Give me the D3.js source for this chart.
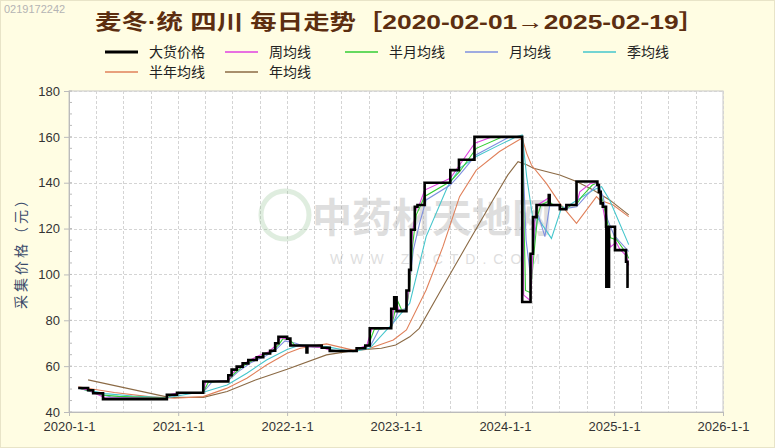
<!DOCTYPE html>
<html><head><meta charset="utf-8">
<script src="https://cdn.jsdelivr.net/npm/d3@7"></script>
<style>
html,body{margin:0;padding:0;background:#FFFDE3;}
svg{display:block;}
</style></head>
<body>
<svg id="chart" width="775" height="448"></svg>
<script>
// ---------- data ----------
const titleText = "麦冬·统 四川 每日走势［2020-02-01→2025-02-19］";
const yTicks = [40, 60, 80, 100, 120, 140, 160, 180];
const xTickLabels = ["2020-1-1","2021-1-1","2022-1-1","2023-1-1","2024-1-1","2025-1-1","2026-1-1"];
const seriesNames = ["大货价格","周均线","半月均线","月均线","季均线","半年均线","年均线"];
const seriesColors = ["#000000","#E040E0","#33CC33","#7F8FDF","#45C6CC","#E0805A","#8B6A45"];

const price = [
["2020-02-01",50.5],["2020-03-05",49.5],["2020-03-22",48.2],["2020-04-24",45.6],
["2020-11-24",47.5],["2020-12-28",48.4],["2021-03-26",53.3],["2021-06-18",56],
["2021-06-29",58.5],["2021-07-16",59.8],["2021-08-05",61.2],["2021-08-24",62.7],
["2021-09-21",63.9],["2021-10-13",65.5],["2021-11-05",66.7],["2021-11-22",70],
["2021-12-03",72.8],["2022-01-01",72],["2022-01-12",69],["2022-03-07",66],["2022-03-10",69],
["2022-04-27",68],["2022-05-24",66.6],["2022-08-22",67.8],["2022-09-20",69],["2022-10-05",76.5],
["2022-12-16",85],["2022-12-26",90],["2023-01-03",84],["2023-02-05",93],
["2023-02-14",102],["2023-02-20",119.5],["2023-03-05",129.5],["2023-03-14",130.3],
["2023-04-07",140],["2023-07-02",145.5],["2023-07-31",150],["2023-09-21",160],
["2024-02-28",88],["2024-03-27",109],["2024-04-04",125],["2024-04-16",130.3],
["2024-05-27",134.6],["2024-05-30",130.3],["2024-07-03",128.4],["2024-07-25",130.3],
["2024-08-28",140.5],["2024-11-06",139],["2024-11-11",136],["2024-11-17",131],
["2024-11-24",129.5],["2024-12-05",120.8],["2024-12-06",94.6],["2024-12-09",120.8],
["2024-12-12",94.6],["2024-12-15",120.8],["2025-01-04",110.6],["2025-02-10",105.5],
["2025-02-15",94.6],["2025-02-19",94.6]
];

const maWeek = [
["2020-02-01",50.5],["2020-03-10",49.5],["2020-03-27",48.2],["2020-05-01",46.2],["2020-11-24",46],["2020-12-01",47.5],["2021-01-04",48.4],
["2021-03-26",48.5],["2021-04-03",53.2],["2021-06-18",53.6],["2021-07-01",56.8],["2021-08-01",60.4],["2021-09-01",62.8],["2021-10-01",64.8],["2021-11-01",66.3],["2021-11-28",69.5],["2021-12-10",72.4],["2022-01-05",71.8],["2022-01-18",69],["2022-04-27",68.2],["2022-05-30",66.6],["2022-08-22",66.7],["2022-08-30",67.8],["2022-09-25",69],["2022-10-12",76.3],["2022-12-16",76.6],["2022-12-24",85],["2023-01-02",89],["2023-01-10",84.2],["2023-02-05",84.5],["2023-02-12",93.5],["2023-02-19",103],["2023-02-25",118],["2023-03-09",128.5],["2023-03-20",130.3],["2023-04-07",136.8],["2023-07-02",141.9],["2023-08-02",147.7],["2023-09-22",157.2],["2023-11-20",160],["2024-02-28",160],["2024-03-04",91],["2024-03-27",88.5],["2024-04-03",108],["2024-04-11",125],["2024-04-20",130.3],["2024-05-28",133.5],["2024-06-03",130.3],["2024-07-03",130],["2024-07-10",128.6],["2024-07-25",128.6],["2024-08-01",130.3],["2024-08-28",130.5],["2024-09-08",136],["2024-10-15",139.8],["2024-11-06",140],["2024-11-14",136],["2024-11-22",131],["2024-12-06",121],["2024-12-20",112],["2025-01-08",114],["2025-01-20",111],["2025-02-12",108],["2025-02-19",104]
];

const maHalfMonth = [
["2020-02-01",50.5],["2020-03-20",48.8],["2020-04-12",47.5],["2020-06-15",46.8],["2020-09-01",46.4],["2020-11-24",46.2],["2020-12-12",47.4],["2021-01-15",48.3],
["2021-03-26",48.5],["2021-04-12",53],["2021-06-18",53.7],["2021-07-08",56.8],["2021-08-08",60.2],["2021-09-08",62.6],["2021-10-08",64.5],["2021-11-08",66.1],["2021-12-05",69.5],["2021-12-18",72],["2022-01-10",71.5],["2022-01-28",69],["2022-04-27",68.2],["2022-06-08",66.7],["2022-08-22",66.7],["2022-09-08",67.8],["2022-09-30",69],["2022-10-20",76],["2022-12-16",76.6],["2022-12-30",85],["2023-01-08",88],["2023-01-20",84.5],["2023-02-05",84.5],["2023-02-16",95],["2023-02-25",112],["2023-03-10",126],["2023-03-25",130.3],["2023-04-07",134],["2023-07-02",140.5],["2023-08-02",144.8],["2023-09-27",155],["2023-12-24",160],["2024-02-28",160],["2024-03-10",93],["2024-03-27",92],["2024-04-08",110],["2024-04-20",126],["2024-05-01",130.3],["2024-05-28",132],["2024-06-10",130.3],["2024-07-03",130.2],["2024-07-18",128.6],["2024-07-28",129],["2024-08-10",130.3],["2024-08-28",130.6],["2024-09-15",134],["2024-10-20",139],["2024-11-06",140],["2024-11-20",134],["2024-12-06",125],["2024-12-20",116],["2025-01-10",115],["2025-02-12",109],["2025-02-19",107]
];

const maMonth = [
["2020-02-01",50.5],["2020-04-01",48.2],["2020-05-20",46.6],["2020-11-24",46],["2020-12-22",47.5],["2021-01-28",48.4],
["2021-03-26",48.6],["2021-04-25",53.2],["2021-06-18",53.8],["2021-07-20",57.5],["2021-09-01",61.5],["2021-10-15",64],["2021-11-20",66.7],["2021-12-25",71],["2022-01-30",70],["2022-03-01",68.6],["2022-05-01",68],["2022-06-20",66.7],["2022-08-22",66.7],["2022-09-20",68],["2022-10-08",69],["2022-11-05",76],["2022-12-16",76.8],["2023-01-10",84.5],["2023-02-05",85],["2023-02-28",110.6],["2023-03-21",122.3],["2023-04-12",132.5],["2023-07-02",139],["2023-08-02",143.4],["2023-09-27",152.2],["2024-01-17",160],["2024-02-28",160],["2024-03-12",115],["2024-03-27",99],["2024-04-10",118],["2024-04-22",126],["2024-05-14",116.5],["2024-05-30",130],["2024-07-03",130],["2024-07-25",128.8],["2024-08-28",129.5],["2024-09-28",134],["2024-11-08",139.5],["2024-11-25",134],["2024-12-10",124],["2025-01-01",117],["2025-02-19",110]
];

const maQuarter = [
["2020-02-01",50.5],["2020-05-01",48],["2020-08-01",47],["2020-11-24",46.2],["2021-02-20",48.2],["2021-03-26",48.6],["2021-06-14",51.8],["2021-08-19",56.9],["2021-10-24",62.7],["2022-01-01",67.3],["2022-02-14",69.2],["2022-05-13",68.5],["2022-08-10",66.3],["2022-10-05",67.8],["2022-12-23",79],["2023-02-16",87.4],["2023-03-10",99],["2023-04-12",116.5],["2023-06-23",138.3],["2023-08-02",146.3],["2023-09-27",151.4],["2023-12-14",156.5],["2024-02-08",160],["2024-02-28",160.8],["2024-03-14",142.6],["2024-04-06",122.3],["2024-04-17",125.2],["2024-06-05",115.7],["2024-07-08",128.8],["2024-07-26",129.5],["2024-10-23",136.8],["2024-11-20",138.3],["2024-12-17",132.5],["2025-02-19",113]
];

const maHalfYear = [
["2020-02-01",51],["2020-06-01",48.5],["2020-10-01",46.6],["2020-12-20",46],["2021-03-26",46.7],["2021-06-12",50.3],["2021-08-19",54.7],["2021-10-24",60.5],["2022-01-01",65.6],["2022-02-14",67.8],["2022-05-13",69.7],["2022-08-10",67],["2022-09-24",67.3],["2022-12-23",71.4],["2023-02-05",75.8],["2023-04-12",93.2],["2023-06-07",112],["2023-08-02",133.9],["2023-09-27",145.5],["2023-12-14",153.6],["2024-02-08",158],["2024-02-28",159.5],["2024-03-14",152.8],["2024-03-30",147.7],["2024-05-19",139.7],["2024-07-03",131],["2024-08-28",122.3],["2024-11-03",133.9],["2024-11-14",132.5],["2024-12-29",130.3],["2025-02-19",125.2]
];

const maYear = [
["2020-03-05",54],["2020-12-01",46.4],["2021-03-26",46.4],["2021-06-14",48.9],["2021-09-17",54],["2022-01-01",58.6],["2022-05-13",64.9],["2022-08-21",67],["2022-11-13",67.8],["2022-12-31",69.2],["2023-02-16",72.8],["2023-03-20",76.5],["2023-06-07",94.6],["2023-09-05",115],["2023-11-22",132.5],["2024-01-11",143.4],["2024-02-14",149.2],["2024-03-14",147.8],["2024-04-06",146.3],["2024-07-03",143.4],["2024-08-28",140.5],["2024-10-23",136.8],["2024-12-17",132.5],["2025-02-19",126]
];

// ---------- layout ----------
const svg = d3.select("#chart");
const W = 775, H = 448;
const plot = {left: 69, right: 723, top: 91, bottom: 412};
const parse = d3.timeParse("%Y-%m-%d");

svg.append("rect").attr("width", W).attr("height", H).attr("fill", "#FFFDE3");
svg.append("rect").attr("x", 0.5).attr("y", 0.5).attr("width", W-1).attr("height", H-1)
  .attr("fill", "none").attr("stroke", "#E8E4C8");

const x = d3.scaleTime().domain([parse("2020-01-01"), parse("2026-01-01")]).range([plot.left, plot.right]);
const y = d3.scaleLinear().domain([40, 180]).range([plot.bottom, plot.top]);

// plot background
svg.append("rect").attr("x", plot.left).attr("y", plot.top)
  .attr("width", plot.right - plot.left).attr("height", plot.bottom - plot.top)
  .attr("fill", "#FFFFFF").attr("stroke", "#C8C8C8");

// grid
const grid = svg.append("g");
const quarters = d3.timeMonth.every(3).range(parse("2020-01-01"), parse("2026-01-02"));
grid.selectAll("line.vg").data(quarters).join("line")
  .attr("x1", d => Math.round(x(d)) + 0.5).attr("x2", d => Math.round(x(d)) + 0.5)
  .attr("y1", plot.top).attr("y2", plot.bottom)
  .attr("stroke", "#D4D4D4").attr("stroke-dasharray", "3,2");
grid.selectAll("line.hg").data(yTicks).join("line")
  .attr("x1", plot.left).attr("x2", plot.right)
  .attr("y1", d => Math.round(y(d)) + 0.5).attr("y2", d => Math.round(y(d)) + 0.5)
  .attr("stroke", "#D4D4D4").attr("stroke-dasharray", "3,2");

// watermark
const wm = svg.append("g").attr("opacity", 0.28);
wm.append("circle").attr("cx", 285).attr("cy", 215).attr("r", 24).attr("fill", "none")
  .attr("stroke", "#8fbf8f").attr("stroke-width", 5);
wm.append("text").attr("x", 312).attr("y", 232).attr("font-size", 40)
  .attr("font-family", "Noto Sans CJK SC").attr("font-weight", "bold").attr("fill", "#8a8a8a")
  .text("中药材天地网");
wm.append("text").attr("x", 330).attr("y", 264).attr("font-size", 14)
  .attr("font-family", "Liberation Sans").attr("letter-spacing", 7).attr("fill", "#8a8a8a")
  .text("WWW.ZYCTD.COM");

// axes
const yAxis = d3.axisLeft(y).tickValues(yTicks).tickSize(5).tickPadding(4);
const gy = svg.append("g").attr("transform", `translate(${plot.left},0)`).call(yAxis);
const yMinor = d3.range(40, 181, 5);
svg.append("g").selectAll("line").data(yMinor).join("line")
  .attr("x1", plot.left).attr("x2", plot.left + 3)
  .attr("y1", d => y(d)).attr("y2", d => y(d)).attr("stroke", "#BBBBBB");

const yearTicks = d3.timeYear.range(parse("2020-01-01"), parse("2026-01-02"));
const xAxis = d3.axisBottom(x).tickValues(yearTicks).tickSize(4).tickPadding(6)
  .tickFormat((d, i) => xTickLabels[i]);
const gx = svg.append("g").attr("transform", `translate(0,${plot.bottom})`).call(xAxis);
[gx, gy].forEach(g => {
  g.select(".domain").attr("stroke", "#BBBBBB");
  g.selectAll(".tick line").attr("stroke", "#BBBBBB");
  g.selectAll("text").attr("font-family", "Liberation Sans, Arial").attr("font-size", 13).attr("fill", "#333333");
});

// y axis title
svg.append("text").attr("transform", "translate(26,251) rotate(-90)")
  .attr("text-anchor", "middle").attr("font-size", 14)
  .attr("font-family", "Noto Sans CJK SC").attr("fill", "#3A4A6A")
  .attr("textLength", 116).attr("lengthAdjust", "spacing")
  .text("采集价格（元）");

// lines
const clip = svg.append("clipPath").attr("id", "pc").append("rect")
  .attr("x", plot.left).attr("y", plot.top).attr("width", plot.right - plot.left).attr("height", plot.bottom - plot.top);
const lines = svg.append("g").attr("clip-path", "url(#pc)");
const lineGen = d3.line().x(d => x(parse(d[0]))).y(d => y(d[1]));
const stepGen = d3.line().x(d => x(parse(d[0]))).y(d => y(d[1])).curve(d3.curveStepAfter);

const maSeries = [maYear, maHalfYear, maQuarter, maMonth, maHalfMonth, maWeek];
const maColorIdx = [6, 5, 4, 3, 2, 1];
maSeries.forEach((s, i) => {
  lines.append("path").datum(s).attr("d", lineGen).attr("fill", "none")
    .attr("stroke", seriesColors[maColorIdx[i]]).attr("stroke-width", 1.1);
});
lines.append("path").datum(price).attr("d", stepGen).attr("fill", "none")
  .attr("stroke", seriesColors[0]).attr("stroke-width", 2.6).attr("stroke-linejoin", "miter");

// title
svg.append("text").attr("x", 95).attr("y", 29)
  .attr("font-size", 21).attr("font-weight", "bold")
  .attr("font-family", "Liberation Sans, Noto Sans CJK SC")
  .attr("fill", "#5C2E10")
  .attr("textLength", 610).attr("lengthAdjust", "spacingAndGlyphs")
  .text(titleText);

// id stamp
svg.append("text").attr("x", 4).attr("y", 13).attr("font-size", 11)
  .attr("font-family", "Liberation Sans").attr("fill", "#B4B4B4").text("0219172242");

// legend
const legendPos = [[105,52],[225,52],[345,52],[465,52],[583,52],[105,72],[225,72]];
const lg = svg.append("g");
seriesNames.forEach((name, i) => {
  const [lx, ly] = legendPos[i];
  lg.append("line").attr("x1", lx).attr("x2", lx + 33).attr("y1", ly).attr("y2", ly)
    .attr("stroke", seriesColors[i]).attr("stroke-width", i === 0 ? 3 : 1.6);
  lg.append("text").attr("x", lx + 44).attr("y", ly + 5).attr("font-size", 14)
    .attr("font-family", "Noto Sans CJK SC").attr("fill", "#222222").text(name);
});
</script>
</body></html>
